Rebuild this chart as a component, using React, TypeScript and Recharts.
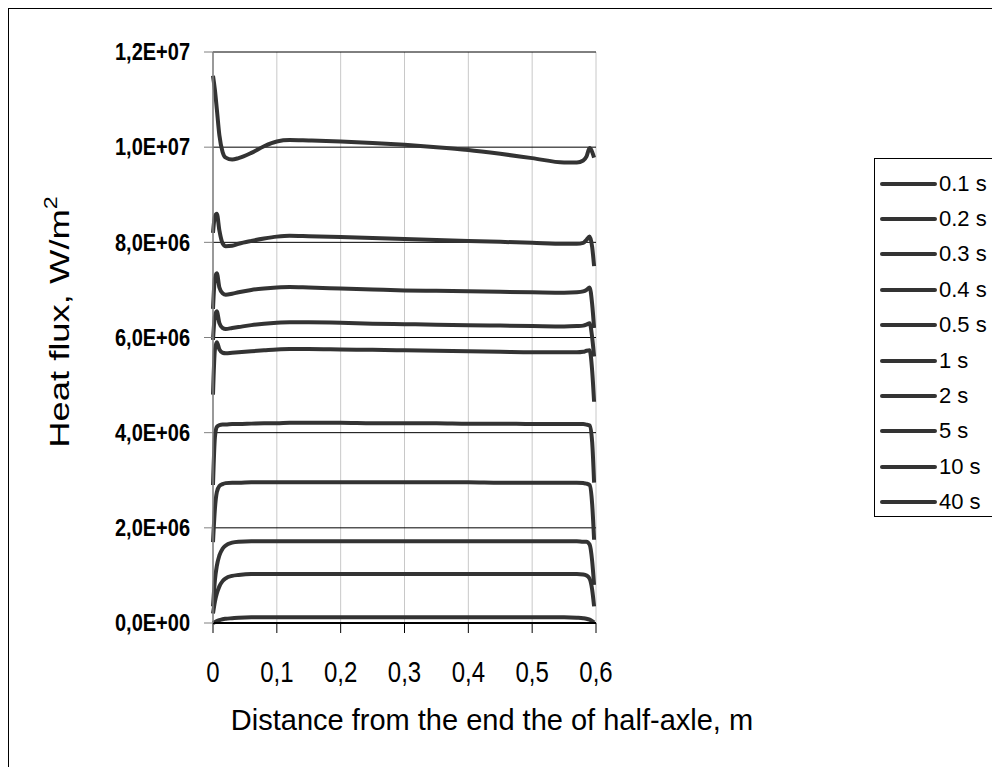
import { CartesianGrid, Line, LineChart, XAxis, YAxis } from 'recharts';

// distance along the half-axle, m
const distance = [
  0, 0.003, 0.006, 0.01, 0.015, 0.02, 0.03, 0.04, 0.06, 0.08, 0.1, 0.12, 0.15, 0.2, 0.25, 0.3, 0.35, 0.4, 0.45,
  0.5, 0.55, 0.57, 0.58, 0.585, 0.59, 0.594, 0.597,
];

// heat flux in MW/m2 for each time step
const flux01 = [
  11.5, 11.2, 10.8, 10.25, 9.9, 9.78, 9.74, 9.77, 9.88, 10.02, 10.12, 10.15, 10.14, 10.12, 10.09, 10.05, 10.0, 9.94,
  9.86, 9.77, 9.68, 9.68, 9.72, 9.8, 9.98, 9.9, 9.78,
];
const flux02 = [
  8.2, 8.55, 8.6, 8.25, 7.98, 7.92, 7.93, 7.97, 8.03, 8.08, 8.12, 8.14, 8.13, 8.11, 8.09, 8.07, 8.05, 8.03, 8.01,
  7.99, 7.97, 7.97, 7.99, 8.05, 8.12, 7.9, 7.5,
];
const flux03 = [
  6.6, 7.25, 7.35, 7.05, 6.93, 6.9, 6.92, 6.95, 7.0, 7.03, 7.05, 7.06, 7.05, 7.03, 7.01, 6.99, 6.98, 6.97, 6.96,
  6.95, 6.94, 6.95, 6.97, 7.0, 7.05, 6.7, 6.2,
];
const flux04 = [
  5.95, 6.45, 6.55, 6.3, 6.2, 6.18, 6.2, 6.22, 6.26, 6.29, 6.31, 6.32, 6.32, 6.31, 6.29, 6.28, 6.27, 6.26, 6.25,
  6.24, 6.23, 6.24, 6.25, 6.27, 6.3, 6.0, 5.6,
];
const flux05 = [
  4.8, 5.75, 5.9, 5.75, 5.68, 5.67, 5.68, 5.69, 5.71, 5.73, 5.75, 5.76, 5.76, 5.75, 5.74, 5.73, 5.72, 5.71, 5.7,
  5.69, 5.69, 5.69, 5.7, 5.72, 5.73, 5.3, 4.65,
];
const flux1 = [
  2.9, 3.9, 4.12, 4.16, 4.17, 4.17, 4.18, 4.18, 4.19, 4.2, 4.2, 4.21, 4.21, 4.21, 4.2, 4.2, 4.2, 4.19, 4.19, 4.18,
  4.18, 4.18, 4.18, 4.17, 4.15, 3.8, 2.95,
];
const flux2 = [
  1.7, 2.4, 2.75, 2.88, 2.92, 2.94, 2.95, 2.95, 2.96, 2.96, 2.96, 2.96, 2.96, 2.96, 2.96, 2.96, 2.96, 2.96, 2.95,
  2.95, 2.95, 2.95, 2.94, 2.93, 2.9, 2.5, 1.75,
];
const flux5 = [
  0.35, 0.9, 1.2, 1.42, 1.56, 1.63, 1.69, 1.71, 1.72, 1.72, 1.72, 1.72, 1.72, 1.72, 1.72, 1.72, 1.72, 1.72, 1.72,
  1.72, 1.72, 1.72, 1.71, 1.71, 1.65, 1.3, 0.8,
];
const flux10 = [
  0.2, 0.45, 0.62, 0.77, 0.88, 0.94, 0.99, 1.01, 1.03, 1.03, 1.03, 1.03, 1.03, 1.03, 1.03, 1.03, 1.03, 1.03, 1.03,
  1.03, 1.03, 1.03, 1.02, 1.0, 0.93, 0.7, 0.35,
];
const flux40 = [
  0.0, 0.02, 0.04, 0.06, 0.08, 0.09, 0.1, 0.11, 0.12, 0.12, 0.12, 0.12, 0.12, 0.12, 0.12, 0.12, 0.12, 0.12, 0.12,
  0.12, 0.12, 0.11, 0.1, 0.09, 0.07, 0.04, 0.01,
];

const seriesNames = ['0.1 s', '0.2 s', '0.3 s', '0.4 s', '0.5 s', '1 s', '2 s', '5 s', '10 s', '40 s'];
const seriesValues = [flux01, flux02, flux03, flux04, flux05, flux1, flux2, flux5, flux10, flux40];

const xTicks = [0, 0.1, 0.2, 0.3, 0.4, 0.5, 0.6];
const yTicks = [0, 2e6, 4e6, 6e6, 8e6, 10e6, 12e6];

const data = distance.map((x, i) => {
  const row: Record<string, number> = { x };
  seriesNames.forEach((name, s) => {
    row[name] = seriesValues[s][i] * 1e6;
  });
  return row;
});

const FONT = '"Liberation Sans", Arial, sans-serif';
const LINE = '#333333';

const fmtY = (v: number) => {
  const [m, e] = v.toExponential(1).split('e');
  const exp = parseInt(e, 10);
  return `${m.replace('.', ',')}E${exp < 0 ? '-' : '+'}${String(Math.abs(exp)).padStart(2, '0')}`;
};
const fmtX = (v: number) => String(v).replace('.', ',');

// the original picture is stretched a bit vertically, so the tick text is too
const XTick = (props: any) => {
  const { x, y, payload } = props;
  return (
    <text
      transform={`translate(${x},${y}) scale(1,1.25)`}
      textAnchor="middle"
      dy="0.71em"
      fontSize={24}
      fontFamily={FONT}
      fill="#000"
    >
      {fmtX(payload.value)}
    </text>
  );
};

const YTick = (props: any) => {
  const { x, y, payload } = props;
  return (
    <text
      transform={`translate(${x},${y}) scale(1,1.15)`}
      textAnchor="end"
      dy="0.355em"
      fontSize={20}
      fontWeight="bold"
      fontFamily={FONT}
      fill="#000"
    >
      {fmtY(payload.value)}
    </text>
  );
};

export default function App() {
  return (
    <div
      style={{
        position: 'relative',
        width: 988,
        height: 770,
        border: '1px solid #000',
        borderBottom: 'none',
        fontFamily: FONT,
      }}
    >
      <LineChart width={988} height={760} data={data} margin={{ top: 43, right: 401, left: 0, bottom: 46 }}>
        <CartesianGrid horizontal={false} stroke="#c8c8c8" />
        <CartesianGrid vertical={false} stroke="#000" />
        <XAxis
          dataKey="x"
          type="number"
          domain={[0, 0.6]}
          ticks={xTicks}
          height={100}
          tickSize={10}
          tickMargin={28}
          axisLine={{ stroke: '#000', strokeWidth: 2 }}
          tickLine={{ stroke: '#000' }}
          tick={<XTick />}
          label={{
            content: () => (
              <text
                x={483}
                y={713}
                textAnchor="middle"
                dominantBaseline="middle"
                fontSize={29}
                fontFamily={FONT}
                fill="#000"
              >
                Distance from the end the of half-axle, m
              </text>
            ),
          }}
        />
        <YAxis
          type="number"
          domain={[0, 12e6]}
          ticks={yTicks}
          width={204}
          tickSize={9}
          tickMargin={14}
          axisLine={{ stroke: '#808080', strokeWidth: 1.5 }}
          tickLine={{ stroke: '#808080' }}
          tick={<YTick />}
          label={{
            content: () => (
              <text
                transform="translate(53,313) rotate(-90) scale(1.3,1)"
                textAnchor="middle"
                dominantBaseline="middle"
                fontSize={28}
                fontFamily={FONT}
                fill="#000"
              >
                Heat flux, W/m
                <tspan fontSize={18} dy={-10}>
                  2
                </tspan>
              </text>
            ),
          }}
        />
        {seriesNames.map((name) => (
          <Line
            key={name}
            dataKey={name}
            name={name}
            type="monotone"
            stroke={LINE}
            strokeWidth={4}
            dot={false}
            isAnimationActive={false}
          />
        ))}
      </LineChart>
      <div
        style={{
          position: 'absolute',
          left: 865,
          top: 149,
          width: 123,
          height: 359,
          borderTop: '1px solid #000',
          borderLeft: '1px solid #000',
          borderBottom: '1px solid #000',
          boxSizing: 'border-box',
          paddingTop: 7,
        }}
      >
        {seriesNames.map((name) => (
          <div key={name} style={{ display: 'flex', alignItems: 'center', height: 35.4 }}>
            <div style={{ width: 57, height: 4, background: LINE, marginLeft: 5, borderRadius: 2 }} />
            <span style={{ fontSize: 22, marginLeft: 2, lineHeight: 1 }}>{name}</span>
          </div>
        ))}
      </div>
    </div>
  );
}
